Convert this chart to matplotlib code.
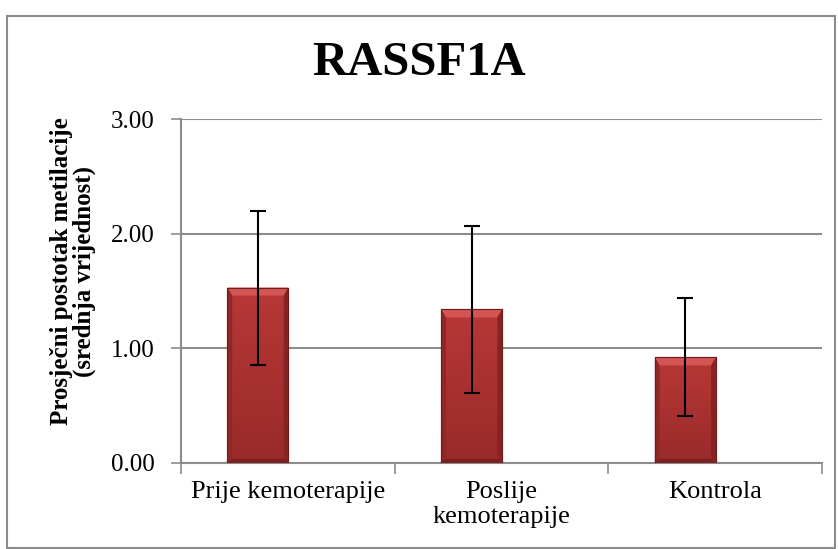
import matplotlib.pyplot as plt
from matplotlib.patches import Rectangle, Polygon
import numpy as np

categories = ['Prije kemoterapije', 'Poslije\nkemoterapije', 'Kontrola']
means = [1.53, 1.34, 0.92]
err_low = [0.85, 0.61, 0.41]
err_high = [2.20, 2.07, 1.44]

plt.rcParams['font.family'] = ['Liberation Serif', 'DejaVu Serif']

fig = plt.figure(figsize=(8.38, 5.49), dpi=100)
ax = fig.add_axes([0.216, 0.157, 0.765, 0.626])

x = np.arange(len(categories))
xb = x - 0.14
yerr = [np.array(means) - np.array(err_low), np.array(err_high) - np.array(means)]

bars = ax.bar(xb, means, width=0.285, color='#a93130', edgecolor='#6e1c1c',
              linewidth=0.8, zorder=3)

# soft vertical gradient + bevel, roughly like the office-style bars
grad = np.linspace(1, 0, 100).reshape(-1, 1)
cmap = plt.matplotlib.colors.LinearSegmentedColormap.from_list('r', ['#9a2a2a', '#b73837'])
for b in bars:
    bx, bw, bh = b.get_x(), b.get_width(), b.get_height()
    im = ax.imshow(grad, extent=[bx, bx + bw, 0, bh], aspect='auto', cmap=cmap, zorder=3.5)
    im.set_clip_path(b)
    dx, dy = 0.022, 0.07
    ax.add_patch(Polygon([(bx, bh), (bx + bw, bh), (bx + bw - dx, bh - dy), (bx + dx, bh - dy)],
                         closed=True, color='#d45654', lw=0, zorder=4))
    ax.add_patch(Polygon([(bx, 0), (bx + dx, dy * 0.5), (bx + dx, bh - dy), (bx, bh)],
                         closed=True, color='#8f2727', lw=0, zorder=4))
    ax.add_patch(Polygon([(bx + bw, 0), (bx + bw - dx, dy * 0.5), (bx + bw - dx, bh - dy), (bx + bw, bh)],
                         closed=True, color='#862424', lw=0, zorder=4))
    ax.add_patch(Polygon([(bx, 0), (bx + bw, 0), (bx + bw - dx, dy * 0.5), (bx + dx, dy * 0.5)],
                         closed=True, color='#7a2020', lw=0, zorder=4))
    ax.add_patch(Rectangle((bx, 0), bw, bh, fill=False, edgecolor='#6e1c1c', lw=0.8, zorder=4.5))

ax.errorbar(xb, means, yerr=yerr, fmt='none', ecolor='black', elinewidth=1.5,
            capsize=6, capthick=1.5, zorder=5)

ax.set_xlim(-0.5, 2.5)
ax.set_ylim(0, 3)
ax.set_yticks([0, 1, 2, 3])
ax.set_yticklabels(['0.00', '1.00', '2.00', '3.00'], fontsize=18)
ax.yaxis.grid(True, color='#8c8c8c', linewidth=1.5, zorder=0)

ax.set_xticks([-0.5, 0.5, 1.5, 2.5])
ax.set_xticklabels([])
ax.set_xticks(x, minor=True)
ax.set_xticklabels(categories, minor=True, fontsize=19, linespacing=1.2)
ax.tick_params(axis='x', which='minor', length=0, pad=13)
ax.tick_params(axis='x', which='major', length=8, color='#8c8c8c', width=1.2)
ax.tick_params(axis='y', length=7, color='#8c8c8c', width=1.2, pad=12)

for s in ['top', 'right']:
    ax.spines[s].set_visible(False)
for s in ['left', 'bottom']:
    ax.spines[s].set_color('#8c8c8c')
    ax.spines[s].set_linewidth(1.5)

fig.text(73 / 838, 0.506, 'Prosječni postotak metilacije\n(srednja vrijednost)',
         rotation=90, ha='center', va='center', fontsize=18, fontweight='bold',
         linespacing=0.95, multialignment='center')

fig.text(0.5, 0.863, 'RASSF1A', ha='center', va='baseline', fontsize=35, fontweight='bold')

fig.patches.append(Rectangle((0.008, 0.002), 0.988, 0.968, transform=fig.transFigure,
                             fill=False, edgecolor='#8c8c8c', linewidth=1.5))

fig.savefig('out.png', dpi=100)
